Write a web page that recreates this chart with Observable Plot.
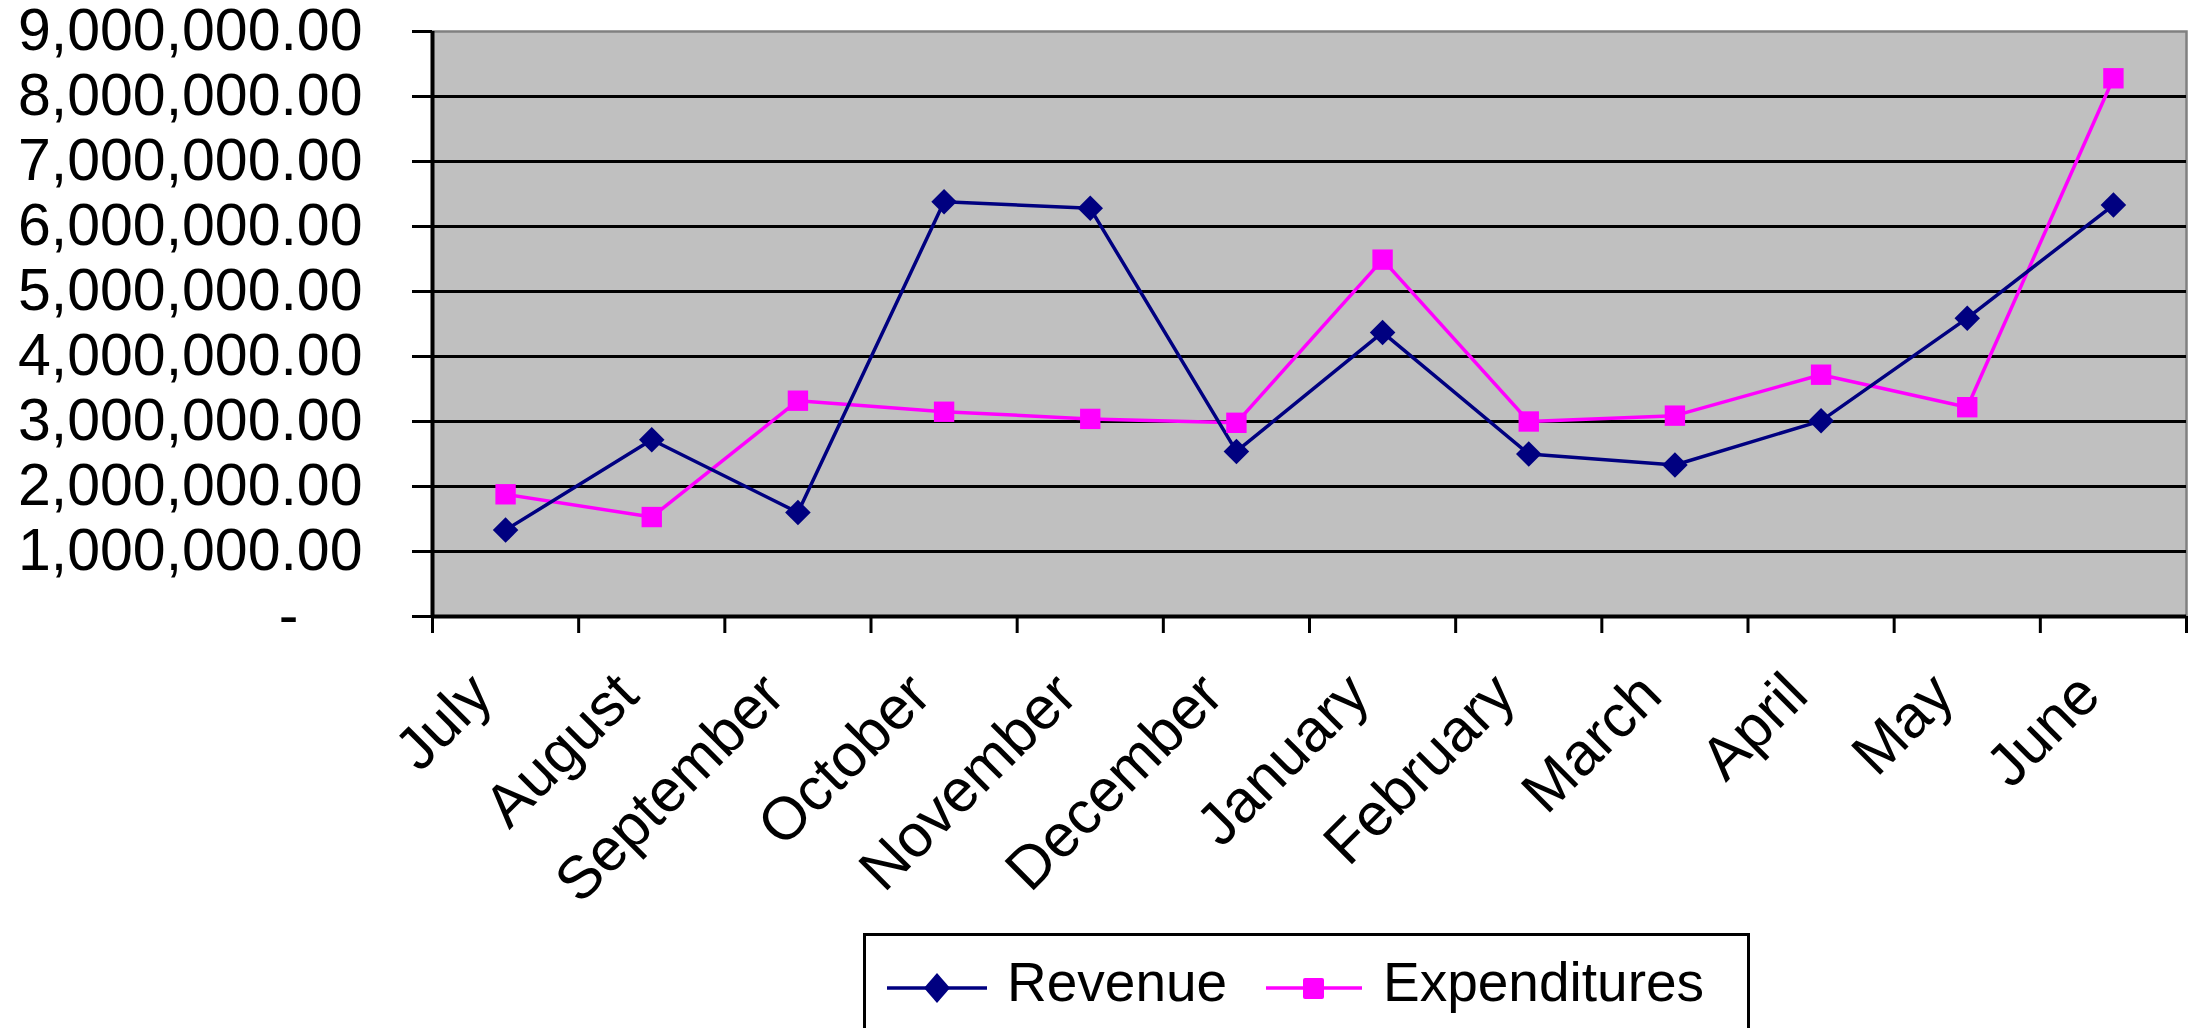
<!DOCTYPE html>
<html>
<head>
<meta charset="utf-8">
<script src="https://cdn.jsdelivr.net/npm/d3@7"></script>
<script src="https://cdn.jsdelivr.net/npm/@observablehq/plot@0.6"></script>
<style>
  html, body { margin: 0; padding: 0; background: #fff; }
  body { width: 2190px; height: 1028px; overflow: hidden; position: relative; font-family: "Liberation Sans", Arial, sans-serif; }
  #chart svg { display: block; }
  #legend { position: absolute; left: 863px; top: 933px; width: 887px; height: 130px; border: 3px solid #000; box-sizing: border-box; background: #fff; }
  #legend .sw { position: absolute; }
  #legend .lab { position: absolute; font-size: 55px; line-height: 55px; color: #000; white-space: nowrap; }
</style>
</head>
<body>
<div id="chart"></div>
<div id="legend">
  <svg class="sw" style="left:21px;top:32px" width="104" height="40">
    <line x1="0" y1="20" x2="100" y2="20" stroke="#000080" stroke-width="3.5"></line>
    <path d="M50,5 L63,20 L50,35 L37,20 Z" fill="#000080"></path>
  </svg>
  <span class="lab" style="left:141px;top:19px">Revenue</span>
  <svg class="sw" style="left:400px;top:32px" width="100" height="40">
    <line x1="0" y1="20" x2="96" y2="20" stroke="#ff00ff" stroke-width="3.5"></line>
    <rect x="37" y="10" width="21" height="21" rx="2" fill="#ff00ff"></rect>
  </svg>
  <span class="lab" style="left:517px;top:19px">Expenditures</span>
</div>
<script>
const months = ["July", "August", "September", "October", "November", "December", "January", "February", "March", "April", "May", "June"];
const revenue = [1330000, 2720000, 1600000, 6380000, 6280000, 2540000, 4370000, 2500000, 2330000, 3010000, 4590000, 6330000];
const expenditures = [1880000, 1530000, 3320000, 3150000, 3040000, 2980000, 5490000, 3000000, 3090000, 3720000, 3220000, 8280000];
const yTicks = [0, 1000000, 2000000, 3000000, 4000000, 5000000, 6000000, 7000000, 8000000, 9000000];

const rows = months.map((m, i) => ({month: m, i, revenue: revenue[i], expenditures: expenditures[i]}));
const xpos = d => d.i + 0.5;
const fmt = d3.format(",.2f");
const font = "Liberation Sans, Arial, sans-serif";

const chart = Plot.plot({
  width: 2190,
  height: 900,
  marginLeft: 432,
  marginRight: 4,
  marginTop: 31,
  marginBottom: 284,
  style: {fontFamily: font, background: "#fff", color: "#000", overflow: "visible"},
  x: {type: "linear", domain: [0, months.length], axis: null},
  y: {domain: [0, 9000000], axis: null},
  marks: [
    Plot.frame({fill: "#c0c0c0", stroke: "#808080", strokeWidth: 2.5}),
    Plot.ruleY(yTicks.slice(1, -1), {stroke: "#000", strokeWidth: 3}),
    Plot.axisY({ticks: yTicks, tickSize: 20, tickPadding: 50, strokeWidth: 3, fontSize: 59,
      tickFormat: d => d === 0 ? "" : fmt(d)}),
    Plot.text([yTicks[0]], {y: d => d, text: () => "-", frameAnchor: "left", textAnchor: "end",
      dx: -134, fontSize: 59, fill: "#000"}),
    Plot.axisX({ticks: d3.range(months.length + 1), tickSize: 17, strokeWidth: 3, tickFormat: () => ""}),
    Plot.ruleX([0], {stroke: "#000", strokeWidth: 4}),
    Plot.ruleY([0], {stroke: "#000", strokeWidth: 4}),
    Plot.line(rows, {x: xpos, y: "expenditures", stroke: "#ff00ff", strokeWidth: 3.5}),
    Plot.line(rows, {x: xpos, y: "revenue", stroke: "#000080", strokeWidth: 3.5}),
    Plot.dot(rows, {x: xpos, y: "expenditures", symbol: "square", r: 11.5, fill: "#ff00ff", stroke: "none"}),
    Plot.dot(rows, {x: xpos, y: "revenue", symbol: "diamond2", r: 11.5, fill: "#000080", stroke: "none"}),
    Plot.text(rows, {x: xpos, frameAnchor: "bottom", text: "month", rotate: -45, textAnchor: "end",
      lineAnchor: "middle", dx: -24, dy: 68, fontSize: 60, fill: "#000"})
  ]
});
document.getElementById("chart").appendChild(chart);
</script>
</body>
</html>
